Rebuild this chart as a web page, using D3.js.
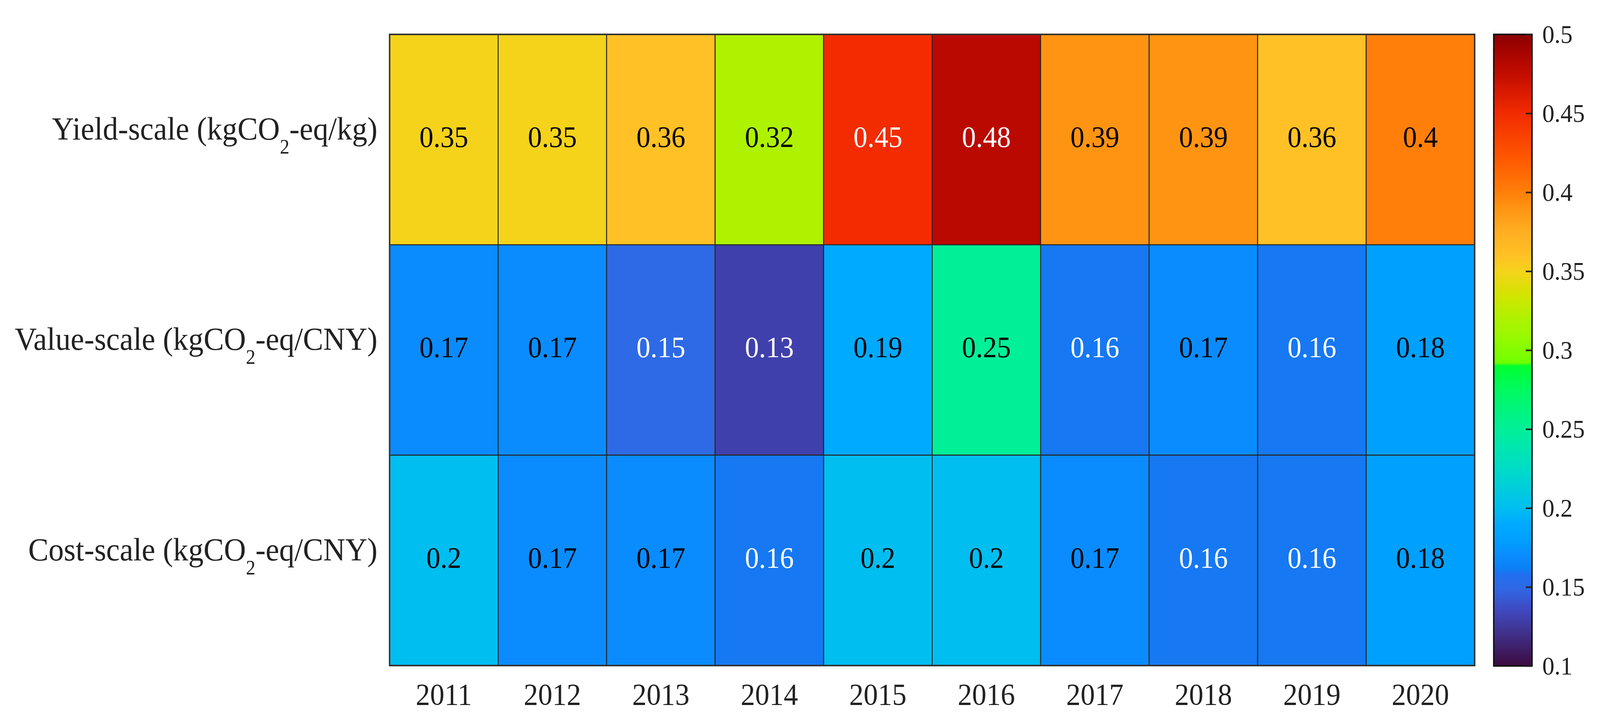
<!DOCTYPE html>
<html>
<head>
<meta charset="utf-8">
<script src="https://cdn.jsdelivr.net/npm/d3@7"></script>
<style>
  html, body { margin: 0; padding: 0; background: #fff; overflow: hidden; }
  svg { display: block; width: 100vw; height: 100vh; }
</style>
</head>
<body>
<svg id="chart" viewBox="0 0 4353 1850" preserveAspectRatio="none"></svg>
<script>
// years along the bottom
const years = ['2011', '2012', '2013', '2014', '2015', '2016', '2017', '2018', '2019', '2020'];

// row labels ("_2" marks the subscript)
const rowLabels = [
  'Yield-scale (kgCO_2-eq/kg)',
  'Value-scale (kgCO_2-eq/CNY)',
  'Cost-scale (kgCO_2-eq/CNY)'
];

// one array per row
const yieldScale = [0.35, 0.35, 0.36, 0.32, 0.45, 0.48, 0.39, 0.39, 0.36, 0.40];
const valueScale = [0.17, 0.17, 0.15, 0.13, 0.19, 0.25, 0.16, 0.17, 0.16, 0.18];
const costScale  = [0.20, 0.17, 0.17, 0.16, 0.20, 0.20, 0.17, 0.16, 0.16, 0.18];

// colour bar ticks
const colorTicks = [0.1, 0.15, 0.2, 0.25, 0.3, 0.35, 0.4, 0.45, 0.5];

// colormap (value -> colour)
const cmapValues = [0.10, 0.12, 0.135, 0.15, 0.158, 0.162, 0.17, 0.18, 0.19, 0.20, 0.225, 0.25, 0.275, 0.29, 0.292, 0.31, 0.32, 0.335, 0.35, 0.36, 0.375, 0.39, 0.40, 0.42, 0.45, 0.47, 0.48, 0.50];
const cmapColors = ['#3c0a40', '#403088', '#4048c0', '#2e6ae6', '#2070f0', '#0c80f6', '#0a8cff', '#00a0ff', '#00aaff', '#00bef0', '#00dcc8', '#00f098', '#00fa60', '#00ff30', '#70ff00', '#9cf800', '#aef200', '#d4e400', '#f5d31b', '#ffc125', '#ffae22', '#ff9412', '#ff7f0a', '#ff5a00', '#f22b00', '#cc1200', '#ba0900', '#8b0000'];

const rows = [yieldScale, valueScale, costScale];
const cells = [];
rows.forEach((vals, r) => {
  vals.forEach((v, c) => cells.push({ row: rowLabels[r], year: years[c], value: v }));
});

const svg = d3.select('#chart');
const FONT = '"Liberation Serif", "Times New Roman", serif';

const x = d3.scaleBand().domain(years).range([1060, 4012]);
const y = d3.scaleBand().domain(rowLabels).range([88, 1703]);
const color = d3.scaleLinear().domain(cmapValues).range(cmapColors).clamp(true);

// decide text colour from the cell's luminance
function textColor(v) {
  const c = d3.rgb(color(v));
  const lin = ch => { ch /= 255; return ch <= 0.03928 ? ch / 12.92 : Math.pow((ch + 0.055) / 1.055, 2.4); };
  const L = 0.2126 * lin(c.r) + 0.7152 * lin(c.g) + 0.0722 * lin(c.b);
  return L < 0.24 ? '#ffffff' : '#000000';
}

const grid = svg.append('g');

grid.selectAll('rect.cell')
  .data(cells)
  .enter().append('rect')
  .attr('class', 'cell')
  .attr('x', d => x(d.year))
  .attr('y', d => y(d.row))
  .attr('width', x.bandwidth())
  .attr('height', y.bandwidth())
  .attr('fill', d => color(d.value))
  .attr('stroke', '#262626')
  .attr('stroke-width', 2.5);

grid.selectAll('text.val')
  .data(cells)
  .enter().append('text')
  .attr('class', 'val')
  .attr('x', d => x(d.year) + x.bandwidth() / 2)
  .attr('y', d => y(d.row) + y.bandwidth() / 2 + 19)
  .attr('text-anchor', 'middle')
  .style('font-family', FONT)
  .style('font-size', '76px')
  .style('fill', d => textColor(d.value))
  .text(d => d3.format('~g')(d.value));

// outer frame
svg.append('rect')
  .attr('x', x.range()[0])
  .attr('y', y.range()[0])
  .attr('width', x.range()[1] - x.range()[0])
  .attr('height', y.range()[1] - y.range()[0])
  .attr('fill', 'none')
  .attr('stroke', '#333')
  .attr('stroke-width', 4);

// row labels with subscript
const rowText = svg.selectAll('text.rowlab')
  .data(rowLabels)
  .enter().append('text')
  .attr('class', 'rowlab')
  .attr('x', 1027)
  .attr('y', d => y(d) + y.bandwidth() / 2)
  .attr('text-anchor', 'end')
  .style('font-family', FONT)
  .style('font-size', '83px')
  .style('fill', '#222');

rowText.each(function(d) {
  const parts = d.split('_2');
  const t = d3.select(this);
  t.append('tspan').text(parts[0]);
  t.append('tspan').attr('dy', 36).style('font-size', '52px').text('2');
  t.append('tspan').attr('dy', -36).text(parts[1]);
});

// year labels
svg.selectAll('text.year')
  .data(years)
  .enter().append('text')
  .attr('class', 'year')
  .attr('x', d => x(d) + x.bandwidth() / 2)
  .attr('y', 1803)
  .attr('text-anchor', 'middle')
  .style('font-family', FONT)
  .style('font-size', '78px')
  .style('fill', '#222')
  .text(d => d);

// colour bar
const cbX = 4064, cbW = 104;
const cy = d3.scaleLinear().domain([0.1, 0.5]).range([1704, 88]);

const grad = svg.append('defs').append('linearGradient')
  .attr('id', 'cbar')
  .attr('x1', 0).attr('y1', 1).attr('x2', 0).attr('y2', 0);
grad.selectAll('stop')
  .data(cmapValues)
  .enter().append('stop')
  .attr('offset', d => (d - 0.1) / 0.4)
  .attr('stop-color', (d, i) => cmapColors[i]);

svg.append('rect')
  .attr('x', cbX)
  .attr('y', cy(0.5))
  .attr('width', cbW)
  .attr('height', cy(0.1) - cy(0.5))
  .attr('fill', 'url(#cbar)')
  .attr('stroke', '#111')
  .attr('stroke-width', 4);

const cAxis = svg.append('g')
  .attr('transform', `translate(${cbX + cbW},0)`)
  .call(d3.axisRight(cy).tickValues(colorTicks).tickSize(-17).tickPadding(28).tickFormat(d3.format('~g')));
cAxis.select('.domain').remove();
cAxis.selectAll('line').attr('stroke', '#222').attr('stroke-width', 4);
cAxis.selectAll('text')
  .style('font-family', FONT)
  .style('font-size', '66px')
  .style('fill', '#222');
</script>
</body>
</html>
